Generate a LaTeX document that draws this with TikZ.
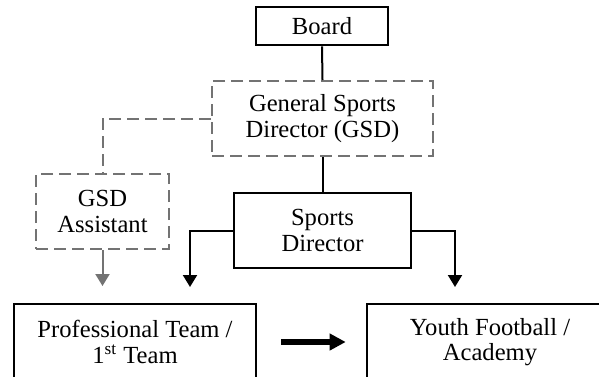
\documentclass[tikz,border=0pt]{standalone}
\usepackage{fontspec}
\setmainfont{Liberation Serif}
\usetikzlibrary{arrows.meta}

\tikzset{
  unitbox/.style={draw=black, line width=1.3pt, align=center, inner sep=0pt,
    font=\fontsize{12.3}{12.6}\selectfont},
  dashbox/.style={unitbox, draw=black!55, line width=1pt, dash pattern=on 6pt off 3pt},
  link/.style={line width=1pt},
  dashlink/.style={draw=black!55, line width=1pt, dash pattern=on 6pt off 3pt},
  downarrow/.style={link, -{Triangle[length=6pt, width=7pt]}},
  flowarrow/.style={line width=2.6pt, -{Triangle[length=8pt, width=8pt]}},
}

\begin{document}
\begin{tikzpicture}[x=0.5pt, y=-0.5pt]
\useasboundingbox (0,0) rectangle (599,376);
\clip (0,0) rectangle (599,376);

% units
\node[unitbox, minimum width=66pt, minimum height=19pt] (board) at (322,26) {Board};
\node[dashbox, minimum width=110.5pt, minimum height=37.5pt] (gsd) at (322.5,118.5) {General Sports\\Director (GSD)};
\node[dashbox, minimum width=66.5pt, minimum height=37.5pt] (asst) at (102.5,211.5) {GSD\\Assistant};
\node[unitbox, minimum width=88.5pt, minimum height=37.5pt] (sd) at (322.5,230.5) {Sports\\Director};
\node[unitbox, minimum width=121pt, minimum height=38pt] (pro) at (135,342) {Professional Team /\\1\textsuperscript{st} Team};
\node[unitbox, minimum width=123pt, minimum height=38pt] (youth) at (490,342) {Youth Football /\\Academy};

% arrow tips above the teams
\coordinate (asstTip) at (102.5,286);
\coordinate (proTip) at (190,287);
\coordinate (youthTip) at (455,287);

% lines
\draw[link] (board.south) -- (gsd.north);
\draw[link] (gsd.south) -- (sd.north);
\draw[dashlink] (gsd.west) -| (asst.north);
\draw[downarrow, draw=black!55, fill=black!55] (asst.south) -- (asstTip);
\draw[downarrow] (sd.west) -| (proTip);
\draw[downarrow] (sd.east) -| (youthTip);
\draw[flowarrow] ([xshift=12pt]pro.east) -- ([xshift=-10pt]youth.west);
\end{tikzpicture}
\end{document}
